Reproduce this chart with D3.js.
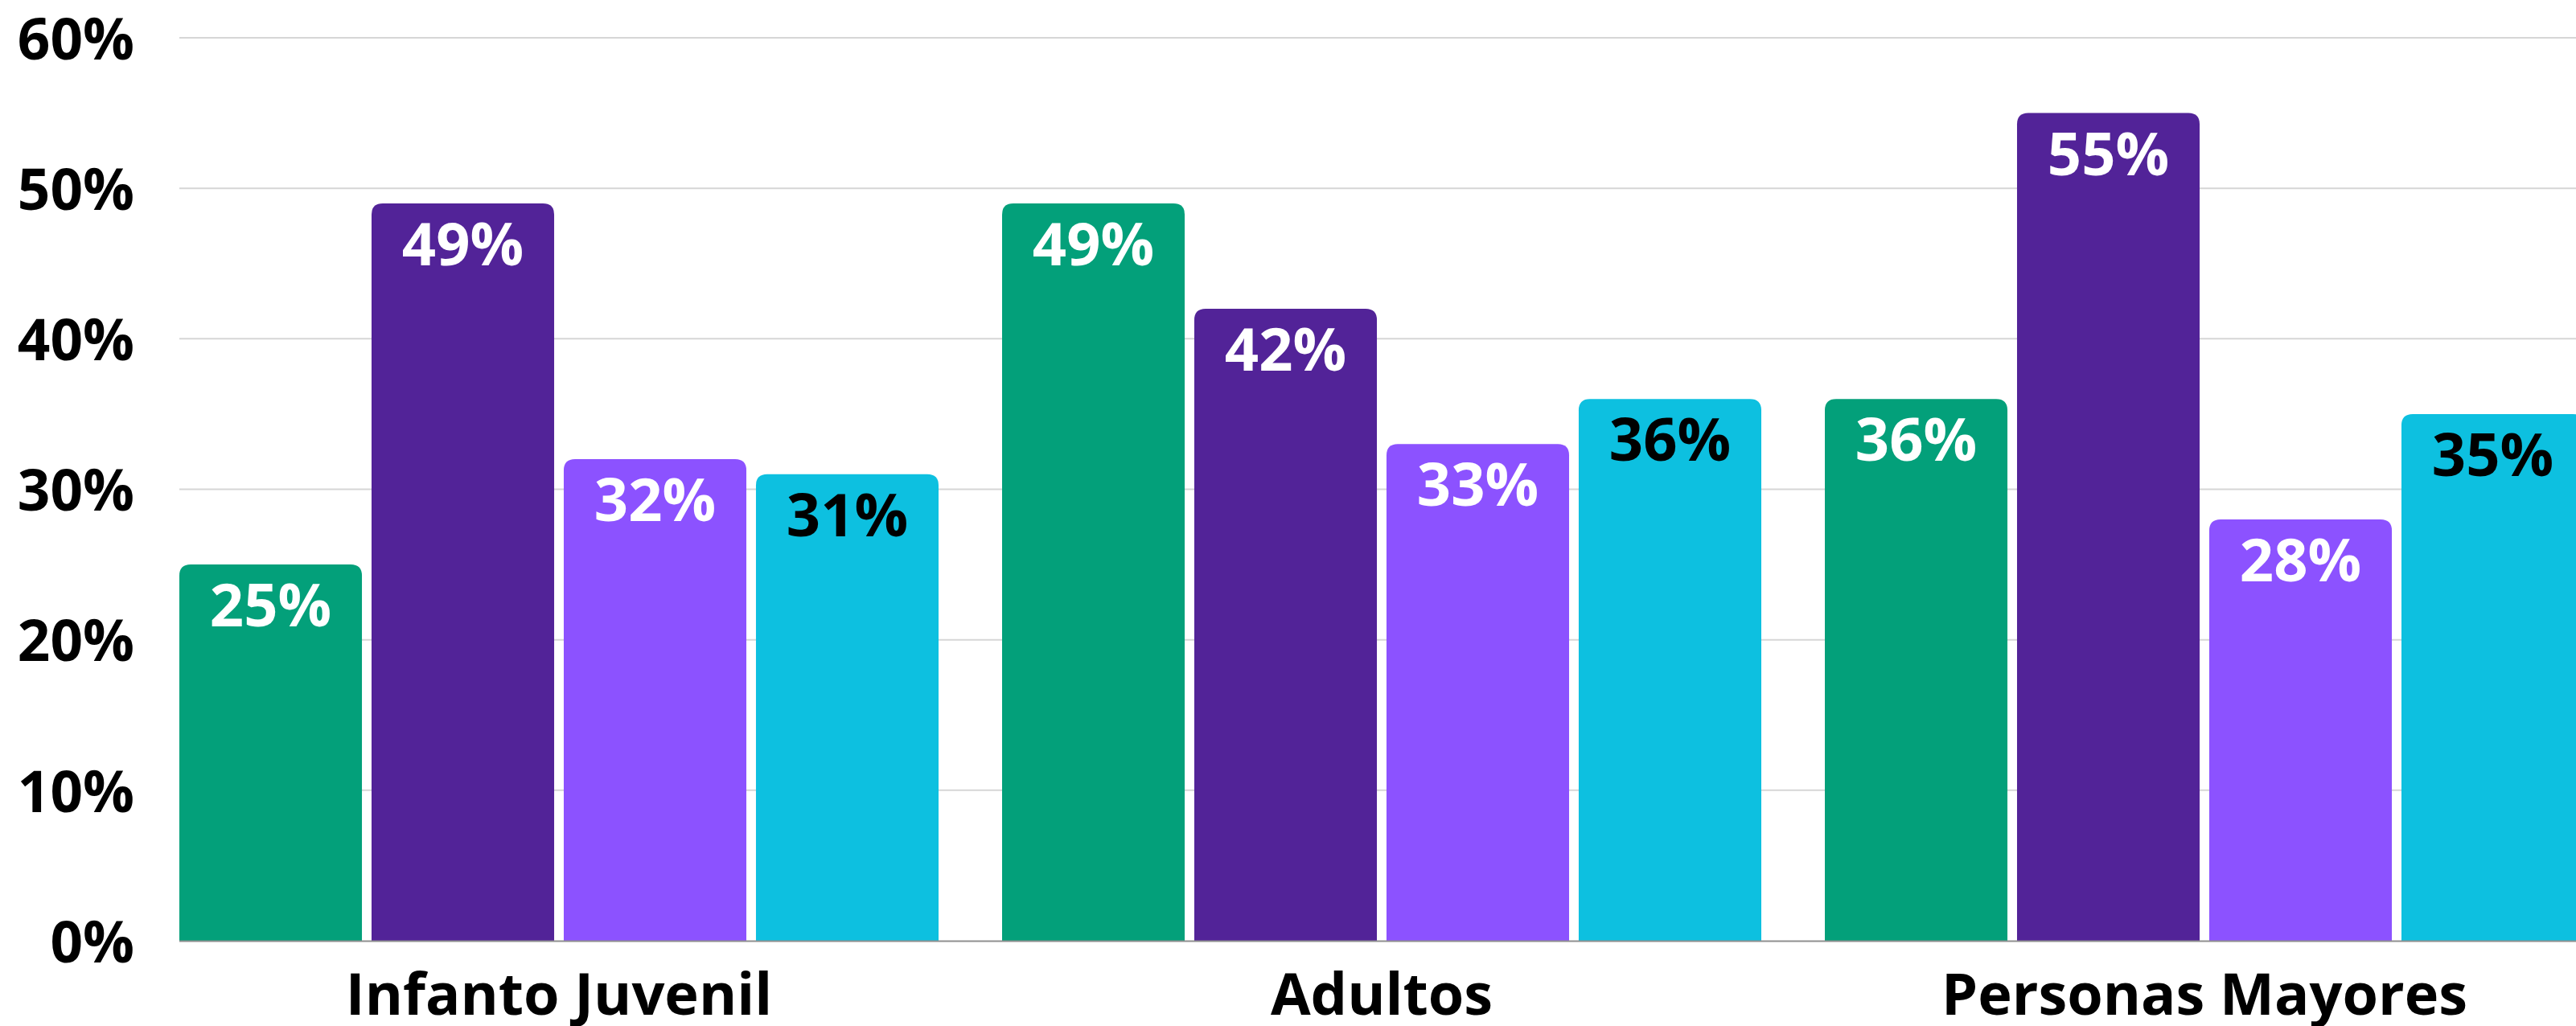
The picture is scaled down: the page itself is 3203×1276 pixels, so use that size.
<!DOCTYPE html>
<html><head><meta charset="utf-8">
<script src="https://cdn.jsdelivr.net/npm/d3@7"></script>
<style>
html,body{margin:0;padding:0;background:#fff;overflow:hidden;}
text{font-family:"Open Sans","Noto Sans",sans-serif;font-weight:700;}
</style></head>
<body>
<svg id="chart" width="3203" height="1276"></svg>
<script>
const categories = ["Infanto Juvenil", "Adultos", "Personas Mayores"];
const seriesNames = ["s1", "s2", "s3", "s4"];
const serie1 = [25, 49, 36];
const serie2 = [49, 42, 55];
const serie3 = [32, 33, 28];
const serie4 = [31, 36, 35];
const yTicks = [0, 10, 20, 30, 40, 50, 60];
const colors = ["#03A07A", "#522398", "#8C52FF", "#0DC0E0"];
const labelColors = ["#ffffff", "#ffffff", "#ffffff", "#000000"];

(function () {
const seriesVals = [serie1, serie2, serie3, serie4];
const data = categories.map((c, i) => ({cat: c, vals: seriesNames.map((s, j) => ({s, j, v: seriesVals[j][i]}))}));

const W = 3203, H = 1276;
const mLeft = 223, mTop = 47, mBottom = 1170;
const svg = d3.select("#chart");

const y = d3.scaleLinear().domain([0, 60]).range([mBottom, mTop]);
const x0 = d3.scaleBand().domain(categories).range([mLeft, 3213]).paddingInner(79/1023).paddingOuter(0);
const x1 = d3.scaleBand().domain(seriesNames).range([0, x0.bandwidth()]).paddingInner(0.05).paddingOuter(0);

// gridlines
svg.append("g").selectAll("line").data(yTicks.filter(t => t > 0)).join("line")
  .attr("x1", mLeft).attr("x2", W)
  .attr("y1", d => y(d)).attr("y2", d => y(d))
  .attr("stroke", "#d6d6d6").attr("stroke-width", 2);

// y axis labels
const yAxis = d3.axisLeft(y).tickValues(yTicks).tickFormat(d => d + "%").tickSize(0).tickPadding(0);
const ga = svg.append("g").attr("transform", `translate(167,0)`).call(yAxis);
ga.select(".domain").remove();
ga.selectAll("text").attr("font-size", 71).attr("fill", "#000").attr("dy", "0.37em")
  .style("font-family", '"Open Sans","Noto Sans",sans-serif').style("font-weight", 700);

// bars
const r = 14;
function barPath(x, yt, w, yb) {
  const h = yb - yt;
  const rr = Math.min(r, h, w / 2);
  return `M${x},${yb}V${yt + rr}Q${x},${yt} ${x + rr},${yt}H${x + w - rr}Q${x + w},${yt} ${x + w},${yt + rr}V${yb}Z`;
}
const groups = svg.append("g").selectAll("g").data(data).join("g")
  .attr("transform", d => `translate(${x0(d.cat)},0)`);
groups.selectAll("path").data(d => d.vals).join("path")
  .attr("d", d => barPath(x1(d.s), y(d.v), x1.bandwidth(), y(0)))
  .attr("fill", d => colors[d.j]);
groups.selectAll("text").data(d => d.vals).join("text")
  .attr("x", d => x1(d.s) + x1.bandwidth() / 2)
  .attr("y", d => y(d.v) + 77)
  .attr("text-anchor", "middle")
  .attr("font-size", 74)
  .attr("fill", d => labelColors[d.j])
  .text(d => d.v + "%");

// baseline
svg.append("line").attr("x1", mLeft).attr("x2", W).attr("y1", y(0) + 0.5).attr("y2", y(0) + 0.5)
  .attr("stroke", "#8f8f8f").attr("stroke-width", 2);

// x axis labels
const xAxis = d3.axisBottom(x0).tickSize(0).tickPadding(0);
const gx = svg.append("g").attr("transform", `translate(0,${y(0)})`).call(xAxis);
gx.select(".domain").remove();
gx.selectAll("text").attr("font-size", 72).attr("fill", "#000").attr("dy", null).attr("y", 92)
  .style("font-family", '"Open Sans","Noto Sans",sans-serif').style("font-weight", 700);
})();
</script>
</body></html>
